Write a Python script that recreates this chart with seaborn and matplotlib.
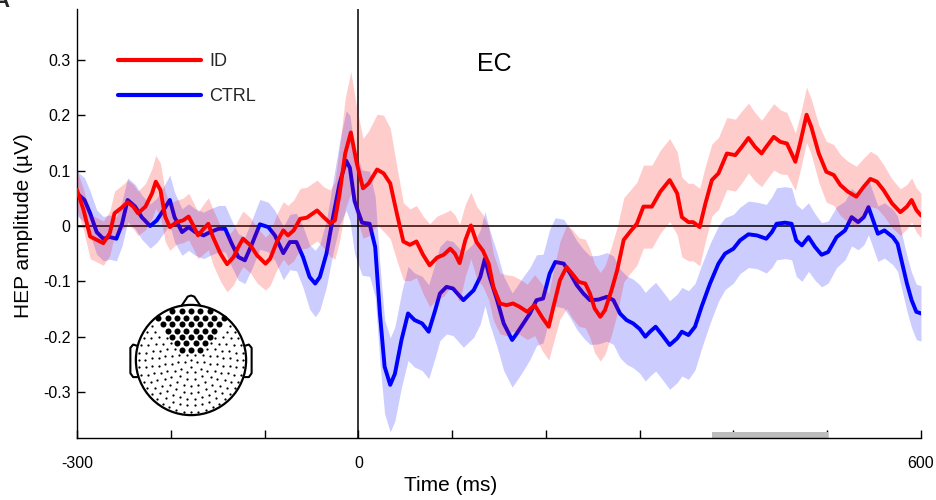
import numpy as np
import matplotlib
matplotlib.use("Agg")
import matplotlib.pyplot as plt
from matplotlib.lines import Line2D
from matplotlib.patches import Circle
import seaborn as sns

# ---- HEP grand averages (µV), EC condition, frontal ROI ----
t_id = np.array([
    -300, -293, -286, -279, -272, -265, -260, -251, -246, -240, -235,
    -227, -220, -216, -211, -206, -201,
    -194, -187, -181, -176, -171, -165, -160, -155,
    -147, -140, -133, -128, -123, -115, -108,
    -99, -94, -87, -80, -75, -69, -62, -55,
    -44, -37, -30, -25, -20, -14, -8, -2,
    5, 11, 20, 27, 34, 41, 48, 55,
    62, 69, 76, 84, 91, 98, 103, 108, 114, 120, 126, 133, 139,
    144, 151, 158, 165, 172, 180, 188, 196, 203, 208,
    215, 222, 228, 235, 242, 247, 252, 258, 263, 270, 276, 283,
    290, 297, 304, 313, 322, 332, 340, 345, 352, 357, 364, 370,
    377, 384, 393, 402, 409, 416, 423, 430, 435, 443, 450, 457, 462, 466, 471, 478, 483,
    491, 499, 507, 514, 522, 531, 539, 546, 553, 560, 569, 578, 585, 590, 595, 600])
id_mean = np.array([
    0.065, 0.029, -0.019, -0.025, -0.031, -0.013, 0.023, 0.035, 0.043, 0.035, 0.023,
    0.035, 0.059, 0.080, 0.065, 0.017, -0.002,
    0.007, 0.010, 0.017, 0.001, -0.017, -0.005, 0.004, -0.020,
    -0.050, -0.069, -0.056, -0.038, -0.023, -0.035, -0.053,
    -0.068, -0.059, -0.029, -0.008, -0.017, -0.008, 0.013, 0.015,
    0.028, 0.016, 0.005, 0.010, 0.058, 0.131, 0.169, 0.116,
    0.068, 0.077, 0.102, 0.095, 0.077, 0.023, -0.028, -0.034,
    -0.028, -0.052, -0.071, -0.057, -0.052, -0.041, -0.050, -0.067, -0.026, 0.001, -0.029, -0.045, -0.068,
    -0.110, -0.140, -0.143, -0.140, -0.146, -0.155, -0.143, -0.165, -0.182, -0.146,
    -0.098, -0.074, -0.086, -0.101, -0.104, -0.122, -0.149, -0.164, -0.152, -0.116, -0.080, -0.025,
    -0.010, 0.004, 0.035, 0.035, 0.062, 0.083, 0.059, 0.016, 0.007, 0.007, -0.002, 0.040,
    0.083, 0.095, 0.131, 0.128, 0.143, 0.159, 0.143, 0.131, 0.143, 0.161, 0.152, 0.149, 0.131, 0.116, 0.149, 0.201, 0.179,
    0.131, 0.098, 0.092, 0.074, 0.062, 0.053, 0.071, 0.085, 0.080, 0.065, 0.041, 0.025, 0.035, 0.047, 0.029, 0.019])
id_sem = np.array([
    0.035, 0.037, 0.040, 0.040, 0.040, 0.040, 0.040, 0.040, 0.040, 0.040, 0.040,
    0.042, 0.045, 0.048, 0.048, 0.045, 0.042,
    0.040, 0.040, 0.042, 0.042, 0.042, 0.045, 0.047, 0.050,
    0.050, 0.050, 0.050, 0.050, 0.050, 0.050, 0.050,
    0.048, 0.048, 0.050, 0.052, 0.054, 0.055, 0.055, 0.055,
    0.055, 0.055, 0.060, 0.070, 0.085, 0.100, 0.110, 0.100,
    0.090, 0.095, 0.100, 0.105, 0.100, 0.085, 0.070, 0.065,
    0.065, 0.070, 0.075, 0.075, 0.075, 0.070, 0.070, 0.070, 0.065, 0.060, 0.065, 0.065, 0.065,
    0.060, 0.055, 0.055, 0.050, 0.050, 0.050, 0.055, 0.060, 0.060, 0.065,
    0.070, 0.075, 0.080, 0.080, 0.080, 0.080, 0.080, 0.080, 0.080, 0.080, 0.078, 0.076,
    0.075, 0.075, 0.075, 0.075, 0.075, 0.075, 0.075, 0.072, 0.070, 0.070, 0.070, 0.068,
    0.065, 0.065, 0.065, 0.065, 0.065, 0.063, 0.062, 0.060, 0.060, 0.060, 0.058, 0.056, 0.054, 0.052, 0.050, 0.050, 0.050,
    0.052, 0.055, 0.055, 0.055, 0.055, 0.055, 0.052, 0.050, 0.048, 0.046, 0.044, 0.042, 0.040, 0.040, 0.040, 0.040])

t_ctrl = np.array([
    -300, -292, -286, -279, -272, -265, -258, -252, -246, -238, -231,
    -222, -215, -208, -201, -196, -188, -181, -174, -165, -158,
    -149, -142, -135, -128, -121, -114, -105, -96, -89, -80,
    -73, -66, -59, -52, -46, -41, -34, -27, -20, -13, -9, -4, 0, 4,
    12, 18, 23, 28, 34, 39, 46, 53, 60, 68, 75, 82, 87, 94, 101, 112,
    123, 130, 135, 140, 148, 155, 164, 169, 176, 183, 190, 197, 204, 210,
    219, 226, 233, 240, 247, 256, 265, 272, 279, 286, 293, 300, 306, 311, 317, 324,
    332, 340, 345, 352, 359, 366, 375, 384, 391, 400, 407, 416, 425, 435,
    441, 446, 455, 462, 467, 473, 480, 487, 494, 501, 510, 519,
    526, 533, 539, 544, 549, 554, 561, 570, 575, 580, 585, 590, 595, 600])
ctrl_mean = np.array([
    0.059, 0.047, 0.023, -0.011, -0.023, -0.020, -0.023, 0.004, 0.047, 0.035, 0.016,
    0.000, 0.010, 0.028, 0.047, 0.016, -0.011, -0.002, -0.011, -0.017, -0.011,
    -0.005, -0.005, -0.032, -0.056, -0.062, -0.035, 0.003, -0.002, -0.017, -0.049,
    -0.029, -0.029, -0.056, -0.092, -0.104, -0.092, -0.050, 0.016, 0.077, 0.118, 0.105, 0.045, 0.025, 0.006,
    0.004, -0.038, -0.158, -0.254, -0.287, -0.267, -0.206, -0.158, -0.170, -0.176, -0.191, -0.152, -0.122, -0.110, -0.113, -0.134,
    -0.116, -0.092, -0.059, -0.092, -0.134, -0.176, -0.206, -0.194, -0.176, -0.158, -0.134, -0.131, -0.086, -0.065,
    -0.068, -0.086, -0.107, -0.122, -0.134, -0.133, -0.128, -0.134, -0.158, -0.170, -0.176, -0.186, -0.200, -0.191, -0.182, -0.197,
    -0.215, -0.203, -0.191, -0.197, -0.182, -0.146, -0.104, -0.068, -0.050, -0.041, -0.026, -0.015, -0.017, -0.023,
    -0.011, 0.004, 0.006, 0.004, -0.026, -0.035, -0.020, -0.038, -0.052, -0.047, -0.020, -0.008,
    0.016, 0.007, 0.016, 0.034, 0.010, -0.014, -0.008, -0.020, -0.032, -0.068, -0.104, -0.134, -0.155, -0.158])
ctrl_sem = np.array([
    0.040, 0.040, 0.040, 0.040, 0.040, 0.040, 0.040, 0.040, 0.040, 0.040, 0.040,
    0.040, 0.040, 0.042, 0.045, 0.045, 0.042, 0.042, 0.042, 0.042, 0.042,
    0.042, 0.042, 0.042, 0.042, 0.042, 0.044, 0.045, 0.045, 0.045, 0.048,
    0.050, 0.052, 0.055, 0.058, 0.060, 0.060, 0.060, 0.065, 0.075, 0.090, 0.095, 0.095, 0.095, 0.095,
    0.095, 0.090, 0.088, 0.085, 0.085, 0.085, 0.085, 0.085, 0.085, 0.085, 0.085, 0.085, 0.085, 0.085, 0.085, 0.085,
    0.085, 0.085, 0.085, 0.085, 0.085, 0.085, 0.085, 0.085, 0.085, 0.083, 0.082, 0.080, 0.080, 0.080,
    0.080, 0.080, 0.080, 0.080, 0.080, 0.080, 0.080, 0.080, 0.080, 0.080, 0.080, 0.080, 0.080, 0.080, 0.080, 0.080,
    0.080, 0.080, 0.080, 0.080, 0.078, 0.075, 0.072, 0.068, 0.065, 0.062, 0.060, 0.060, 0.060, 0.062,
    0.064, 0.065, 0.065, 0.065, 0.065, 0.065, 0.062, 0.060, 0.058, 0.056, 0.055, 0.053,
    0.052, 0.050, 0.050, 0.050, 0.050, 0.050, 0.050, 0.050, 0.050, 0.050, 0.050, 0.050, 0.050, 0.050])

# significant cluster window (ms)
sig_window = [377, 501]

group_names = ["ID", "CTRL"]
group_colors = ["#ff0000", "#0000ff"]
condition_title = "EC"

x_ticks = [-300, -200, -100, 0, 100, 200, 300, 400, 500, 600]
x_ticklabels = ["-300", "", "", "0", "", "", "", "", "", "600"]
y_ticks = [-0.3, -0.2, -0.1, 0.0, 0.1, 0.2, 0.3]
y_ticklabels = ["-0.3", "-0.2", "-0.1", "0", "0.1", "0.2", "0.3"]

assert len(t_id) == len(id_mean) == len(id_sem)
assert len(t_ctrl) == len(ctrl_mean) == len(ctrl_sem)

sns.set_theme(style="white")
plt.rcParams["font.family"] = ["Liberation Sans", "DejaVu Sans"]
plt.rcParams["axes.unicode_minus"] = False

W, H = 936, 500
fig = plt.figure(figsize=(W / 100, H / 100), dpi=100)
ax = fig.add_axes([77 / W, 1 - 438 / H, (921 - 77) / W, (438 - 9) / H])

# CTRL first, ID on top
ax.fill_between(t_ctrl, ctrl_mean - ctrl_sem, ctrl_mean + ctrl_sem,
                color=group_colors[1], alpha=0.2, lw=0, zorder=1)
sns.lineplot(x=t_ctrl, y=ctrl_mean, ax=ax, color=group_colors[1], lw=2.8,
             sort=False, estimator=None, zorder=3)
ax.fill_between(t_id, id_mean - id_sem, id_mean + id_sem,
                color=group_colors[0], alpha=0.2, lw=0, zorder=3.5)
sns.lineplot(x=t_id, y=id_mean, ax=ax, color=group_colors[0], lw=2.8,
             sort=False, estimator=None, zorder=4)

ax.axhline(0, color="black", lw=1.1, zorder=2)
ax.axvline(0, color="black", lw=1.1, zorder=2)

ax.set_xlim(-300, 600)
ax.set_ylim(-0.383, 0.392)
ax.axvspan(sig_window[0], sig_window[1], ymin=0, ymax=6 / 429,
           color="#bdbdbd", lw=0, zorder=1.5)

ax.set_xticks(x_ticks)
ax.set_xticklabels(x_ticklabels)
ax.set_yticks(y_ticks)
ax.set_yticklabels(y_ticklabels)
ax.tick_params(axis="both", direction="in", length=5.5, width=1.0,
               color="black", labelcolor="black", labelsize=11.5,
               bottom=True, left=True, top=False, right=False)
ax.tick_params(axis="x", pad=13)
ax.tick_params(axis="y", pad=4.5)
for side in ["top", "right"]:
    ax.spines[side].set_visible(False)
for side in ["left", "bottom"]:
    ax.spines[side].set_color("black")
    ax.spines[side].set_linewidth(1.0)

ax.set_xlabel("Time (ms)", fontsize=15, color="black")
ax.set_ylabel("HEP amplitude (µV)", fontsize=15, color="black")
ax.xaxis.set_label_coords(0.443, -0.088)
ax.yaxis.set_label_coords(-0.052, 0.494)

ax.text(145, 0.293, condition_title, ha="center", va="center",
        fontsize=18, color="black")

handles = [Line2D([], [], color=c, lw=3.0) for c in group_colors]
ax.legend(handles, group_names, loc="upper left", bbox_to_anchor=(0.049, 0.897),
          frameon=False, fontsize=13, handlelength=4.6, handletextpad=0.45,
          labelspacing=1.0, borderpad=0, borderaxespad=0)

fig.text(-7 / W, 1 + 9 / H, "A", fontsize=16, fontweight="bold", ha="left", va="top")

# ---- electrode layout inset ----
cx, cy, half = 191, 360, 70
hax = fig.add_axes([(cx - half) / W, 1 - (cy + half) / H, 2 * half / W, 2 * half / H])
lim = 1.27
hax.set_xlim(-lim, lim)
hax.set_ylim(-lim, lim)
hax.set_aspect("equal")
hax.axis("off")
hax.patch.set_alpha(0)

hax.add_patch(Circle((0, 0), 1.0, fill=False, lw=1.6, ec="black"))
nose_x = [-0.17, -0.06, 0.0, 0.06, 0.17]
nose_y = [0.985, 1.15, 1.17, 1.15, 0.985]
hax.plot(nose_x, nose_y, color="black", lw=1.5, solid_joinstyle="round")
ear_x = [-0.985, -1.05, -1.10, -1.10, -1.05, -0.975]
ear_y = [0.26, 0.28, 0.22, -0.24, -0.31, -0.31]
hax.plot(ear_x, ear_y, color="black", lw=1.5, solid_joinstyle="round")
hax.plot([-v for v in ear_x], ear_y, color="black", lw=1.5, solid_joinstyle="round")


def in_roi(x, y):
    return (y >= 0.14) & (np.abs(x) <= 0.27 + 0.7 * (y - 0.2) + 0.02)


# frontal ROI sensors: staggered rows
dx, dy = 0.17, 0.115
hx, hy = [], []
for i in range(7):
    yy = 0.88 - i * dy
    shift = 0.5 * dx * (i % 2)
    for col in range(-6, 7):
        xx = col * dx + shift
        if (i % 2) and col == 6:
            continue
        if in_roi(xx, yy) and np.hypot(xx, yy) <= 0.99:
            hx.append(xx)
            hy.append(yy)
hx, hy = np.array(hx), np.array(hy)

# remaining sensors on concentric rings
ring = [(0.0, 0.0)]
for k in range(1, 9):
    r = k * 0.118
    n = int(round(2 * np.pi * r / 0.135))
    off = 0.5 * (k % 2)
    for j in range(n):
        a = 2 * np.pi * (j + off) / n + np.pi / 2
        ring.append((r * np.cos(a), r * np.sin(a)))
ring = np.array(ring)
dmin = np.min(np.hypot(ring[:, :1] - hx[None, :], ring[:, 1:] - hy[None, :]), axis=1)
keep = (dmin > 0.09) & ~((ring[:, 1] > 0.12) & (ring[:, 1] < hy.max()) &
                         (np.abs(ring[:, 0]) < 0.27 + 0.7 * (ring[:, 1] - 0.2) - 0.02))
hax.scatter(ring[keep, 0], ring[keep, 1], s=2.6, color="black", lw=0)
hax.scatter(hx, hy, s=19, color="black", lw=0)

fig.savefig("out.png", dpi=100)
